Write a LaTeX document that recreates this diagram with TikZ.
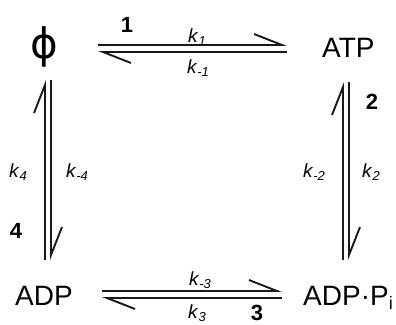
\documentclass[tikz,border=0pt]{standalone}
\usepackage{fontspec}
\setmainfont{Liberation Sans}
\newfontfamily\phifont{DejaVu Sans}
\usetikzlibrary{arrows.meta}
\newcommand\ratek[1]{\textit{k\kern0.8pt\raisebox{-0.35ex}{\fontsize{13}{13}\selectfont #1}}}
\begin{document}
\begin{tikzpicture}[x=1pt,y=-1pt,
  species/.style={font=\fontsize{28}{28}\selectfont, inner sep=0pt, anchor=base west},
  rate/.style={font=\fontsize{19}{19}\selectfont, inner sep=0pt},
  stepnum/.style={font=\fontsize{22}{22}\selectfont\bfseries, inner sep=0pt},
  harp/.style={line width=1.9pt, draw=black!90, -{Straight Barb[left,length=28pt,width=22pt]}},
]
\useasboundingbox (0,0) rectangle (396,324);
% species
\node[inner sep=0pt, font=\phifont\fontsize{42}{42}\selectfont] (phi) at (44,47) {ϕ};
\node[species] (atp) at (322,57) {ATP};
\node[species] (adp) at (15,305) {ADP};
\node[species] (adppi) at (303,305) {ADP·P\raisebox{-0.3ex}{\fontsize{18}{18}\selectfont i}};
% connector end points
\coordinate (t1a) at (98,45);  \coordinate (t1b) at (287,45);
\coordinate (t2a) at (287,52); \coordinate (t2b) at (98,52);
\coordinate (b1a) at (102,291); \coordinate (b1b) at (282,291);
\coordinate (b2a) at (282,298); \coordinate (b2b) at (102,298);
\coordinate (l1a) at (45,260); \coordinate (l1b) at (45,80);
\coordinate (l2a) at (51,80);  \coordinate (l2b) at (51,260);
\coordinate (r1a) at (343,260); \coordinate (r1b) at (343,82);
\coordinate (r2a) at (349,82);  \coordinate (r2b) at (349,260);
% harpoons
\draw[harp] (t1a) -- (t1b);
\draw[harp] (t2a) -- (t2b);
\draw[harp] (b1a) -- (b1b);
\draw[harp] (b2a) -- (b2b);
\draw[harp] (l1a) -- (l1b);
\draw[harp] (l2a) -- (l2b);
\draw[harp] (r1a) -- (r1b);
\draw[harp] (r2a) -- (r2b);
% step numbers
\node[stepnum] (s1) at (127,25) {1};
\node[stepnum] (s2) at (372,102) {2};
\node[stepnum, anchor=base] (s3) at (257,320) {3};
\node[stepnum] (s4) at (16,231) {4};
% rate constants
\node[rate] (k1) at (197,37) {\ratek{1}};
\node[rate] (km1) at (198,68) {\ratek{-1}};
\node[rate] (km2) at (314,172) {\ratek{-2}};
\node[rate] (k2) at (371,172) {\ratek{2}};
\node[rate] (km3) at (200,280) {\ratek{-3}};
\node[rate] (k3) at (197,313) {\ratek{3}};
\node[rate] (k4) at (18,172) {\ratek{4}};
\node[rate] (km4) at (77,172) {\ratek{-4}};
\end{tikzpicture}
\end{document}
